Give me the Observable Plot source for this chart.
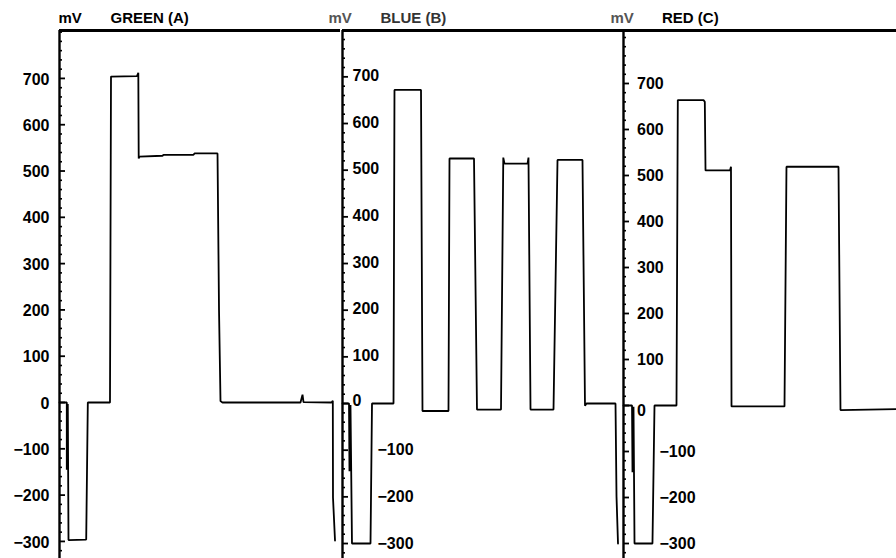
<!DOCTYPE html>
<html>
<head>
<meta charset="utf-8">
<script src="https://cdn.jsdelivr.net/npm/d3@7"></script>
<script src="https://cdn.jsdelivr.net/npm/@observablehq/plot@0.6"></script>
<style>
  html, body { margin: 0; padding: 0; background: #fff; overflow: hidden; }
  #chart { position: relative; width: 896px; height: 558px; overflow: hidden; background: #fff; }
  #chart > div { position: absolute; top: 0; }
</style>
</head>
<body>
<div id="chart"></div>
<script>
// ---- data (time in µs along one video line, level in mV) ----
const panelNames = ["GREEN (A)", "BLUE (B)", "RED (C)"];
const unitLabel = "mV";
const majorTicks = [-300, -200, -100, 0, 100, 200, 300, 400, 500, 600, 700];
const minorTicks = [-320, -280, -260, -240, -220, -180, -160, -140, -120, -80, -60, -40, -20,
  20, 40, 60, 80, 120, 140, 160, 180, 220, 240, 260, 280, 320, 340, 360, 380,
  420, 440, 460, 480, 520, 540, 560, 580, 620, 640, 660, 680, 720, 740, 760, 780, 800];

const greenTime = [0, 1.66, 1.66, 1.89, 2.05, 6.08, 6.45, 11.50, 11.73, 17.65, 17.95, 18.04, 18.22,
  23.46, 23.69, 30.52, 30.75, 35.99, 36.33, 36.67, 37.12, 54.89, 55.35, 55.57, 61.95, 62.25, 62.29, 62.75];
const greenMV = [0, 0, -145, -3, -297, -296, 0, 0, 704, 705, 712, 527, 531,
  533, 535, 535, 538, 538, 200, 3, 0, 0, 17, 1, 0, 4, -205, -298];

const blueTime = [0, 1.48, 1.59, 1.82, 2.16, 6.38, 6.72, 11.62, 11.84, 17.88, 18.22, 24.14, 24.37,
  29.95, 30.63, 36.10, 36.62, 36.90, 42.14, 42.36, 42.82, 48.06, 48.97, 54.66, 55.23, 55.57,
  62.18, 62.41, 62.75];
const blueMV = [0, 0, -145, -3, -300, -300, 0, 0, 672, 672, -16, -16, 525,
  525, -13, -13, 527, 514, 514, 527, -13, -13, 522, 522, -5, 0,
  0, -200, -300];

const redTime = [0, 1.94, 2.05, 2.28, 2.51, 6.60, 7.06, 12.07, 12.37, 18.22, 18.52, 18.68,
  24.26, 24.48, 24.60, 36.67, 37.12, 48.97, 49.42, 62.18];
const redMV = [0, 0, -145, -3, -300, -300, 0, 0, 664, 664, 660, 511,
  511, 519, -2, -2, 519, 519, -10, -8];

// ---- layout (per panel) ----
const panels = [
  {name: panelNames[0], t: greenTime, v: greenMV, left: 0, marginLeft: 59, width: 340,
   xDomain: [0, 64], yDomain: [-336.9, 803.5],
   labelAnchor: "end", posDx: -10, zeroDx: -10, negDx: -10, posDy: 1, zeroDy: 1, negDy: 1,
   unitDx: -1, nameDx: 51, unitFill: "#000", nameFill: "#000"},
  {name: panelNames[1], t: blueTime, v: blueMV, left: 322, marginLeft: 20, width: 301,
   xDomain: [0, 64], yDomain: [-332.1, 799.3],
   labelAnchor: "start", posDx: 10, zeroDx: 10, negDx: 35, posDy: -1, zeroDy: -3, negDy: 0,
   unitDx: -14, nameDx: 38, unitFill: "#555", nameFill: "#333"},
  {name: panelNames[2], t: redTime, v: redMV, left: 603, marginLeft: 20, width: 293,
   xDomain: [0, 62.18], yDomain: [-332.6, 815.2],
   labelAnchor: "start", posDx: 13.5, zeroDx: 13.5, negDx: 36, posDy: 0, zeroDy: 5, negDy: 0,
   unitDx: -13, nameDx: 38.5, unitFill: "#555", nameFill: "#000"}
];

const fmt = d3.format("d");
const chart = document.getElementById("chart");

for (const cfg of panels) {
  const data = cfg.t.map((t, i) => ({t, mV: cfg.v[i]}));
  const pos = majorTicks.filter(d => d > 0);
  const zero = majorTicks.filter(d => d === 0);
  const neg = majorTicks.filter(d => d < 0);
  const lab = {frameAnchor: "left", textAnchor: cfg.labelAnchor, lineAnchor: "middle", fill: "black", fontSize: 16};
  const plot = Plot.plot({
    width: cfg.width,
    height: 558,
    marginLeft: cfg.marginLeft,
    marginRight: 0,
    marginTop: 30,
    marginBottom: 0,
    x: {domain: cfg.xDomain, axis: null},
    y: {domain: cfg.yDomain},
    style: {
      fontFamily: "'Liberation Sans', Arial, Helvetica, sans-serif",
      fontSize: "15px",
      fontWeight: "bold",
      background: "transparent",
      overflow: "visible",
      maxWidth: "none"
    },
    marks: [
      Plot.axisY(minorTicks, {anchor: "left", tickSize: -3, tickFormat: () => "", strokeWidth: 1.6, label: null}),
      Plot.axisY(majorTicks, {anchor: "left", tickSize: -6, tickFormat: () => "", strokeWidth: 1.8, label: null}),
      Plot.ruleX([cfg.xDomain[0]], {stroke: "black", strokeWidth: 2.4}),
      Plot.ruleY([cfg.yDomain[1]], {stroke: "black", strokeWidth: 3}),
      Plot.line(data, {x: "t", y: "mV", stroke: "black", strokeWidth: 1.8, strokeLinejoin: "miter"}),
      Plot.text(pos, {y: d => d, text: d => fmt(d), dx: cfg.posDx, dy: cfg.posDy, ...lab}),
      Plot.text(zero, {y: d => d, text: d => fmt(d), dx: cfg.zeroDx, dy: cfg.zeroDy, ...lab}),
      Plot.text(neg, {y: d => d, text: d => fmt(d), dx: cfg.negDx, dy: cfg.negDy, ...lab}),
      Plot.text([unitLabel], {text: d => d, frameAnchor: "top-left", textAnchor: "start", lineAnchor: "middle",
        dx: cfg.unitDx, dy: -12, fill: cfg.unitFill, fontSize: 15}),
      Plot.text([cfg.name], {text: d => d, frameAnchor: "top-left", textAnchor: "start", lineAnchor: "middle",
        dx: cfg.nameDx, dy: -12, fill: cfg.nameFill, fontSize: 15})
    ]
  });
  const wrap = document.createElement("div");
  wrap.style.left = cfg.left + "px";
  wrap.style.width = cfg.width + "px";
  wrap.appendChild(plot);
  chart.appendChild(wrap);
}
</script>
</body>
</html>
